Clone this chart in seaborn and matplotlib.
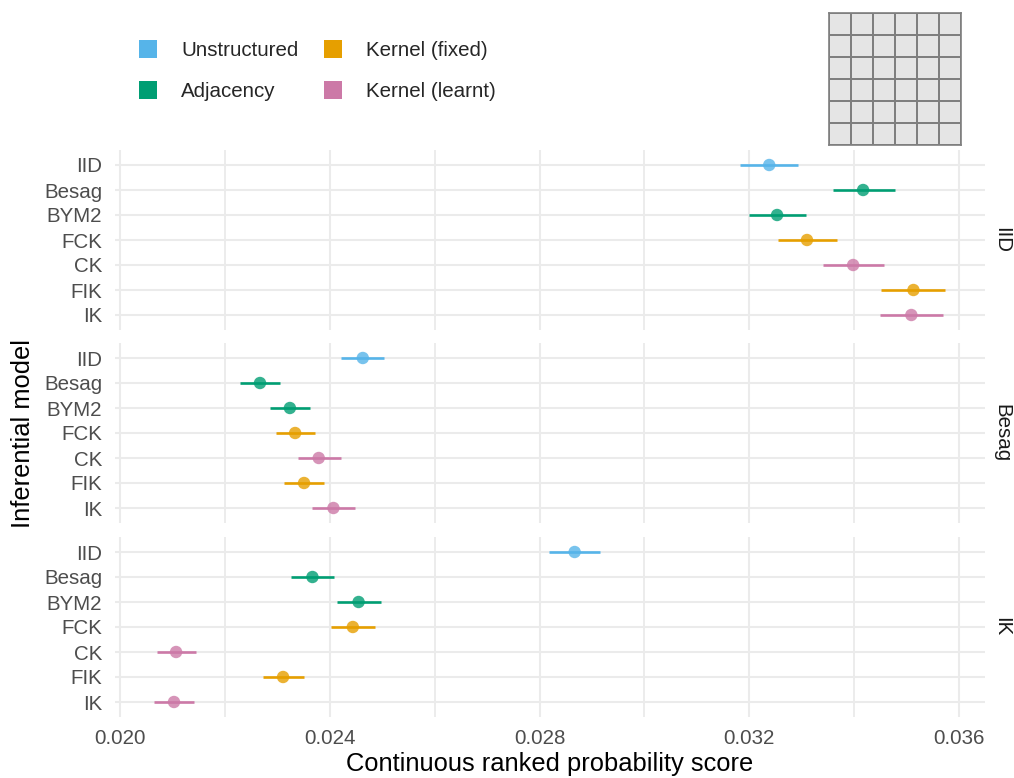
import numpy as np
import pandas as pd
import matplotlib
matplotlib.use("Agg")
import matplotlib.pyplot as plt
import seaborn as sns
from matplotlib.colors import ListedColormap
from matplotlib.lines import Line2D
from matplotlib.ticker import MultipleLocator, FormatStrFormatter

# ---------------- data ----------------
models = ["IID", "Besag", "BYM2", "FCK", "CK", "FIK", "IK"]
model_types = ["Unstructured", "Adjacency", "Adjacency", "Kernel (fixed)",
               "Kernel (learnt)", "Kernel (fixed)", "Kernel (learnt)"]
type_order = ["Unstructured", "Adjacency", "Kernel (fixed)", "Kernel (learnt)"]
type_colors = ["#56B4E9", "#009E73", "#E69F00", "#CC79A7"]
true_models = ["IID", "Besag", "IK"]

crps_iid = [0.03238, 0.03417, 0.03253, 0.03310, 0.03398, 0.03513, 0.03509]
lower_iid = [0.03183, 0.03359, 0.03199, 0.03255, 0.03341, 0.03452, 0.03449]
upper_iid = [0.03293, 0.03477, 0.03308, 0.03367, 0.03457, 0.03574, 0.03570]

crps_besag = [0.02463, 0.02267, 0.02324, 0.02334, 0.02379, 0.02351, 0.02407]
lower_besag = [0.02422, 0.02229, 0.02287, 0.02297, 0.02339, 0.02313, 0.02366]
upper_besag = [0.02503, 0.02305, 0.02363, 0.02371, 0.02421, 0.02389, 0.02449]

crps_ik = [0.02867, 0.02367, 0.02455, 0.02444, 0.02107, 0.02311, 0.02103]
lower_ik = [0.02818, 0.02326, 0.02414, 0.02402, 0.02070, 0.02272, 0.02065]
upper_ik = [0.02916, 0.02409, 0.02498, 0.02486, 0.02145, 0.02351, 0.02141]

grid_size = 6  # study-region icon (6 x 6 areas)

x_label = "Continuous ranked probability score"
y_label = "Inferential model"

# ---------------- build table ----------------
frames = []
for tm, c, lo, hi in zip(true_models,
                         [crps_iid, crps_besag, crps_ik],
                         [lower_iid, lower_besag, lower_ik],
                         [upper_iid, upper_besag, upper_ik]):
    frames.append(pd.DataFrame({"true": tm, "model": models, "type": model_types,
                                "crps": c, "lower": lo, "upper": hi}))
df = pd.concat(frames, ignore_index=True)
df["pos"] = df["model"].map({m: i for i, m in enumerate(models)})
palette = dict(zip(type_order, type_colors))

# ---------------- style ----------------
sns.set_theme(style="white")
plt.rcParams["font.family"] = ["Liberation Sans", "DejaVu Sans"]

base = 18.4
small = base * 0.8
grid_col = "#EBEBEB"

fig = plt.figure(figsize=(10.14, 7.78), dpi=100)
W, H = 1014, 778
left_px, right_px = 114.5, 985
panel_tops = [150, 343, 537]
panel_h = 180

xmin_d, xmax_d = df["lower"].min(), df["upper"].max()
pad = 0.05 * (xmax_d - xmin_d)

axes = []
for i, tm in enumerate(true_models):
    top = panel_tops[i]
    ax = fig.add_axes([left_px / W, 1 - (top + panel_h) / H,
                       (right_px - left_px) / W, panel_h / H])
    axes.append(ax)
    sub = df[df["true"] == tm]
    ax.set_xlim(xmin_d - pad, xmax_d + pad)
    ax.set_ylim(len(models) - 0.4, -0.6)
    ax.xaxis.set_major_locator(MultipleLocator(0.004))
    ax.xaxis.set_minor_locator(MultipleLocator(0.002))
    ax.xaxis.set_major_formatter(FormatStrFormatter("%.3f"))
    ax.set_yticks(range(len(models)))
    ax.set_yticklabels(models)
    ax.grid(True, which="major", axis="both", color=grid_col, linewidth=1.5)
    ax.grid(True, which="minor", axis="x", color=grid_col, linewidth=1.3)
    ax.set_axisbelow(True)
    for s in ax.spines.values():
        s.set_visible(False)
    ax.tick_params(axis="both", which="both", length=0)
    ax.tick_params(axis="y", labelsize=small, labelcolor="#4D4D4D", pad=9.0)
    ax.tick_params(axis="x", labelsize=small, labelcolor="#4D4D4D", pad=9.0)

    ax.hlines(y=sub["pos"], xmin=sub["lower"], xmax=sub["upper"],
              colors=[palette[t] for t in sub["type"]], linewidth=1.9, zorder=2)
    sns.scatterplot(data=sub, x="crps", y="pos", hue="type", palette=palette,
                    hue_order=type_order, s=80, alpha=0.8, linewidth=0,
                    legend=False, ax=ax, zorder=3)
    ax.set_xlabel("")
    ax.set_ylabel("")
    if i < len(true_models) - 1:
        ax.tick_params(axis="x", labelbottom=False)

    fig.text(1001.7 / W, 1 - (top + panel_h / 2) / H, tm, rotation=270,
             ha="center", va="center", fontsize=small, color="#1A1A1A")

# axis titles
fig.text((left_px + right_px) / 2 / W, 1 - 764 / H, x_label,
         ha="center", va="center", fontsize=base, color="black")
fig.text(23 / W, 1 - 433.5 / H, y_label, rotation=90,
         ha="center", va="center", fontsize=base, color="black")

# legend
handles = [Line2D([0], [0], marker="s", linestyle="none", markersize=12.5,
                  markerfacecolor=c, markeredgewidth=0) for c in type_colors]
fig.legend(handles, type_order, loc="upper left",
           bbox_to_anchor=(138 / W, 1 - 41 / H), ncol=2, frameon=False,
           fontsize=small, handlelength=1.0, handletextpad=1.1,
           columnspacing=1.2, labelspacing=1.1, borderpad=0, borderaxespad=0)

# study-region icon
iax = fig.add_axes([829 / W, 1 - 145 / H, 132 / W, 132 / H])
sns.heatmap(np.zeros((grid_size, grid_size)), cmap=ListedColormap(["#E5E5E5"]),
            cbar=False, linewidths=1.2, linecolor="#7F7F7F", ax=iax,
            xticklabels=False, yticklabels=False)
for s in iax.spines.values():
    s.set_visible(True)
    s.set_color("#7F7F7F")
    s.set_linewidth(1.2)

fig.savefig("out.png", dpi=100)
